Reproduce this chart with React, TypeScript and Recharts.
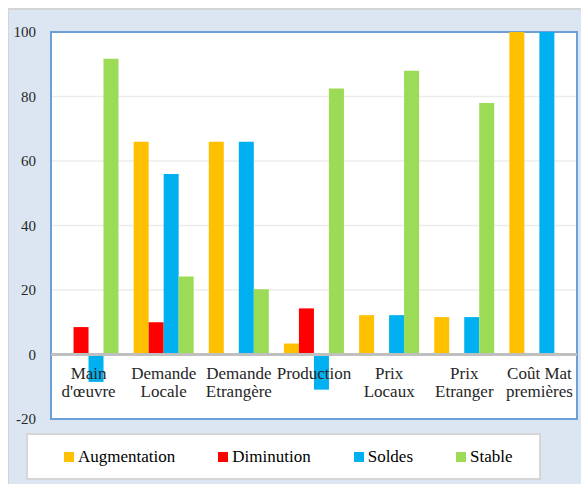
import React from "react";
import {
  BarChart,
  Bar,
  XAxis,
  YAxis,
  CartesianGrid,
  ReferenceLine,
  ReferenceArea,
  Legend,
} from "recharts";

const categories = [
  "Main\nd'œuvre",
  "Demande\nLocale",
  "Demande\nEtrangère",
  "Production",
  "Prix\nLocaux",
  "Prix\nEtranger",
  "Coût Mat\npremières",
];
const augmentation = [0, 66, 66, 3.4, 12.2, 11.6, 100];
const diminution = [8.5, 10, 0, 14.3, 0, 0, 0];
const soldes = [-8.5, 56, 66, -10.9, 12.2, 11.6, 100];
const stable = [91.7, 24.2, 20.2, 82.5, 88, 78, 0];
const yTicks = [-20, 0, 20, 40, 60, 80, 100];

const seriesNames = ["Augmentation", "Diminution", "Soldes", "Stable"];
const seriesColors = ["#FFC000", "#FF0000", "#00B0F0", "#9BDB55"];

const data = categories.map((c, i) => ({
  name: c,
  Augmentation: augmentation[i],
  Diminution: diminution[i],
  Soldes: soldes[i],
  Stable: stable[i],
}));

const FONT = "Liberation Serif, Times New Roman, serif";

const XTick = (props: any) => {
  const { x, y, payload } = props;
  const lines = String(payload.value).split("\n");
  return (
    <g transform={`translate(${x},${y})`}>
      {lines.map((l: string, i: number) => (
        <text
          key={i}
          x={0}
          y={-40 + i * 18}
          textAnchor="middle"
          fontSize={17}
          style={{ fontFamily: FONT }}
          fill="#262626"
        >
          {l}
        </text>
      ))}
    </g>
  );
};

const LegendContent = () => (
  <div
    style={{
      boxSizing: "border-box",
      width: 515,
      height: 47,
      background: "#ffffff",
      border: "2px solid #d6d6d6",
      display: "flex",
      alignItems: "center",
      paddingLeft: 36,
      gap: 43,
      fontFamily: FONT,
      fontSize: 17,
      color: "#000",
    }}
  >
    {seriesNames.map((n, i) => (
      <div key={n} style={{ display: "flex", alignItems: "center", gap: 4 }}>
        <div style={{ width: 10, height: 10, background: seriesColors[i] }} />
        <span style={{ fontFamily: FONT, fontSize: 17 }}>{n}</span>
      </div>
    ))}
  </div>
);

export default function App() {
  return (
    <>
      <style>{`body{margin:0}`}</style>
      <div
        style={{
          position: "relative",
          marginLeft: 8,
          marginTop: 8,
          width: 573,
          height: 476,
          background: "#dce6f2",
          boxSizing: "border-box",
          borderTop: "2px solid #d4d4d4",
          borderLeft: "1px solid #d4d4d4",
        }}
      >
        <div style={{ position: "absolute", left: -1, top: -2, width: 573, height: 476 }}>
          <BarChart
            width={573}
            height={476}
            data={data}
            margin={{ top: 24, right: 4, bottom: 0, left: 0 }}
            barCategoryGap="10%"
            barGap={0}
          >
            <CartesianGrid
              vertical={false}
              stroke="#ececec"
              strokeWidth={1.5}
              fill="#ffffff"
            />
            <ReferenceArea
              y1={-20}
              y2={100}
              fill="none"
              stroke="#6a9fd8"
              strokeWidth={2}
              ifOverflow="visible"
            />
            <XAxis
              dataKey="name"
              axisLine={false}
              tickLine={false}
              tickSize={0}
              tickMargin={0}
              height={18}
              interval={0}
              tick={<XTick />}
            />
            <YAxis
              domain={[-20, 100]}
              ticks={yTicks}
              width={43}
              axisLine={false}
              tickLine={false}
              tickSize={0}
              tickMargin={15}
              tick={{ fontSize: 15, fontFamily: FONT, fill: "#262626" }}
            />
            {seriesNames.map((n, i) => (
              <Bar
                key={n}
                dataKey={n}
                fill={seriesColors[i]}
                isAnimationActive={false}
              />
            ))}
            <ReferenceLine y={0} stroke="#bfbfbf" strokeWidth={3} />
            <Legend
              content={<LegendContent />}
              wrapperStyle={{ position: "absolute", left: 18, top: 425, width: 515, height: 47 }}
            />
          </BarChart>
        </div>
      </div>
    </>
  );
}
